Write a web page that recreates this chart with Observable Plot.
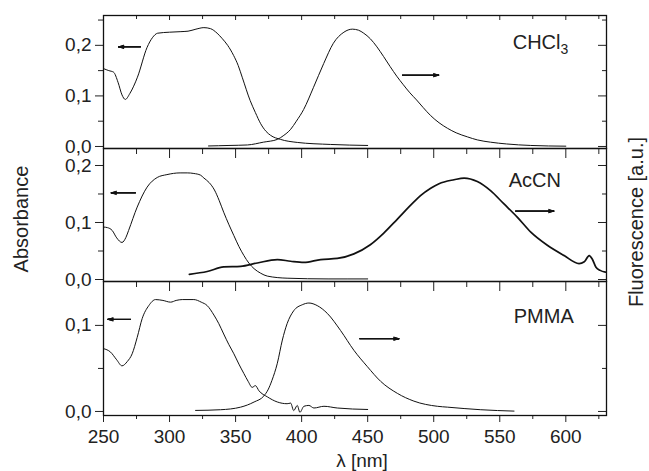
<!DOCTYPE html>
<html><head><meta charset="utf-8">
<script src="https://cdn.jsdelivr.net/npm/d3@7"></script>
<script src="https://cdn.jsdelivr.net/npm/@observablehq/plot@0.6"></script>
<style>
body{margin:0;background:#fff;}
#chart{position:relative;width:649px;height:471px;font-family:"Liberation Sans",Arial,sans-serif;color:#222;overflow:hidden;background:#fff}
#chart svg{position:absolute;left:0;}
.t{position:absolute;font-size:20px;white-space:nowrap;line-height:1;}
</style></head><body><div id="chart"></div>
<script>
// ---- data (wavelength nm, value) ----
const xMajor = [250,300,350,400,450,500,550,600];
const xMinor = [275,325,375,425,475,525,575,625];

const absCHCl3 = [[250,0.154],[254,0.150],[257.6,0.147],[261,0.127],[264,0.102],[266.5,0.093],[270,0.105],[275.7,0.137],[283,0.196],[287,0.215],[291,0.224],[300,0.226],[308,0.227],[314,0.228],[320,0.232],[326,0.235],[331,0.233],[336,0.224],[340,0.213],[344,0.200],[348.5,0.180],[352,0.160],[355,0.137],[361,0.091],[365,0.067],[369,0.045],[373,0.030],[376.5,0.022],[384,0.014],[396.7,0.008],[422,0.004],[450,0.002]];
const fluCHCl3 = [[329.5,0.001],[345,0.002],[359,0.003],[371,0.0085],[381.6,0.014],[386,0.021],[391.7,0.034],[396,0.050],[401.5,0.073],[409,0.117],[416.7,0.164],[424,0.204],[432,0.226],[438.4,0.232],[443,0.230],[447,0.224],[452,0.213],[457,0.197],[462,0.178],[467,0.158],[472,0.139],[477,0.122],[482,0.106],[487,0.092],[492,0.077],[497.7,0.061],[504,0.047],[510.4,0.036],[517,0.027],[525.5,0.019],[533,0.013],[543,0.0085],[555,0.005],[573.5,0.002],[600,0.0006]];

const absAcCN = [[250,0.092],[253,0.091],[256.6,0.086],[260,0.073],[264,0.065],[267,0.074],[269,0.086],[275.5,0.127],[283,0.162],[290.7,0.179],[298,0.184],[308,0.187],[313.4,0.187],[318.4,0.186],[323.5,0.183],[326,0.178],[330,0.170],[334,0.157],[337.5,0.139],[341,0.118],[344.8,0.097],[348.7,0.077],[352.5,0.058],[356.3,0.042],[360,0.029],[364,0.019],[369,0.011],[374,0.006],[389,0.0023],[420,0.001],[450,0.001]];
const fluAcCN = [[315,0.009],[328.5,0.014],[341,0.022],[353.8,0.023],[366.4,0.029],[381.6,0.035],[391.7,0.032],[401.7,0.030],[414.4,0.035],[427,0.037],[439.6,0.045],[452,0.061],[462,0.081],[472.5,0.106],[485,0.136],[490,0.147],[497.7,0.160],[504,0.168],[515.4,0.175],[523,0.178],[533,0.172],[543,0.156],[553,0.133],[563.4,0.109],[573.5,0.083],[586,0.060],[598.7,0.042],[610,0.028],[614,0.031],[617.7,0.042],[620,0.036],[622.7,0.022],[626,0.016],[630,0.013]];

const absPMMA = [[250,0.073],[255.3,0.069],[260,0.060],[264,0.053],[268,0.058],[271.7,0.067],[275.5,0.086],[279.3,0.108],[284.3,0.123],[289.4,0.130],[295,0.129],[300.8,0.127],[305,0.129],[309.6,0.130],[318.4,0.130],[324,0.127],[328.5,0.123],[333.6,0.112],[337.3,0.102],[341,0.090],[344.8,0.078],[348.7,0.067],[352.5,0.055],[356.3,0.044],[359.5,0.035],[362.6,0.028],[365,0.030],[367.7,0.024],[374,0.017],[381.6,0.011],[389,0.009],[391.7,0.0097],[394,0.001],[396.7,0.007],[398.7,-0.001],[401.7,0.006],[405.5,0.007],[409.3,0.004],[416.9,0.006],[427,0.004],[450,0.0023]];
const fluPMMA = [[319.7,0.0012],[338.6,0.002],[353.8,0.005],[364,0.011],[371.4,0.018],[374.5,0.025],[377.5,0.036],[381.6,0.056],[385.4,0.083],[389,0.102],[394,0.117],[400.5,0.124],[405.5,0.126],[411.8,0.123],[419.4,0.114],[429.5,0.094],[439.6,0.071],[449.8,0.052],[459.8,0.035],[472.5,0.021],[485,0.012],[502.8,0.006],[510.4,0.005],[535.6,0.002],[560.8,0.0004]];

// annotation arrows (data coordinates): absorbance <- , fluorescence ->
const arrowsCHCl3 = [{x1:278,x2:261.4,y:0.197},{x1:476.3,x2:503.8,y:0.141}];
const arrowsAcCN  = [{x1:274.2,x2:255.8,y:0.152},{x1:562,x2:591,y:0.120}];
const arrowsPMMA  = [{x1:270.5,x2:253.3,y:0.107},{x1:444,x2:473.7,y:0.0845}];

const panelLabels = [{text:"CHCl3",x:559.8,y:0.205},{text:"AcCN",x:556.8,y:0.173},{text:"PMMA",x:560.6,y:0.110}];
const yTicksMajor = [[0,0.1,0.2],[0,0.1,0.2],[0,0.1]];
const yTicksMinor = [[0.05,0.15,0.25],[0.05,0.15],[0.05]];
const yDomains = [[-0.004,0.259],[-0.0035,0.2298],[-0.0047,0.151]];

// ---- drawing ----
const toObj = a => a.map(([x,y]) => ({x,y}));
const fmt = d => d.toFixed(1).replace(".", ",");
const ink = "#111";
const chart = document.getElementById("chart");

function panel(i, abs, flu, arrows, box, opts = {}) {
  const marks = [
    Plot.line(toObj(abs), {x:"x", y:"y", stroke:ink, strokeWidth:1, curve:"monotone-x"}),
    Plot.line(toObj(flu), {x:"x", y:"y", stroke:ink, strokeWidth:opts.fluWidth || 1, curve:"monotone-x"}),
    ...[36,26,16,6].map(a => Plot.arrow(arrows, {x1:"x1", x2:"x2", y1:"y", y2:"y", stroke:ink, strokeWidth:1, headLength:8, headAngle:a})),
    Plot.text([panelLabels[i]], {x:"x", y:"y", text:"text", textAnchor:"start", fontSize:20, fill:"#222"}),
    Plot.axisY({anchor:"left", ticks:yTicksMajor[i], tickSize:8, tickPadding:4, tickFormat:fmt, label:null, fontSize:19, fill:"#222"}),
    Plot.axisY({anchor:"left", ticks:yTicksMinor[i], tickSize:5, tickFormat:() => "", label:null}),
    Plot.axisY({anchor:"right", ticks:yTicksMajor[i], tickSize:-9, tickFormat:() => "", label:null}),
    Plot.axisY({anchor:"right", ticks:yTicksMinor[i], tickSize:-5, tickFormat:() => "", label:null}),
    Plot.axisX({anchor:"top", ticks:xMajor, tickSize:-(opts.topMajor || 9), tickFormat:() => "", label:null}),
    Plot.axisX({anchor:"top", ticks:xMinor, tickSize:-(opts.topMinor || 5), tickFormat:() => "", label:null})
  ];
  if (opts.bottomAxis) {
    marks.push(
      Plot.axisX({anchor:"bottom", ticks:xMajor, tickSize:7, tickPadding:7, tickFormat:d => String(d), label:null, fontSize:19, fill:"#222"}),
      Plot.axisX({anchor:"bottom", ticks:xMinor, tickSize:4, tickFormat:() => "", label:null})
    );
  }
  marks.push(Plot.frame({stroke:ink, strokeWidth:1.3}));
  const svg = Plot.plot({
    width:649, height:box.height,
    marginLeft:103, marginRight:43, marginTop:box.mt, marginBottom:box.mb,
    x:{domain:[250,630.8]},
    y:{domain:yDomains[i]},
    style:{background:"transparent", overflow:"visible", fontFamily:"Liberation Sans, Arial, sans-serif", fontSize:"19px", color:"#222"},
    marks
  });
  svg.style.top = box.top + "px";
  d3.select(svg).selectAll("text").filter(function(){ return this.textContent === "CHCl3"; })
    .each(function(){
      const t = d3.select(this);
      t.text("CHCl");
      t.append("tspan").attr("dy","0.35em").attr("font-size","14px").text("3");
    });
  chart.appendChild(svg);
}

panel(0, absCHCl3, fluCHCl3, arrowsCHCl3, {top:0, height:165, mt:15, mb:17}, {topMajor:4, topMinor:3});
panel(1, absAcCN, fluAcCN, arrowsAcCN, {top:130, height:168, mt:18, mb:17}, {fluWidth:1.7});
panel(2, absPMMA, fluPMMA, arrowsPMMA, {top:263, height:208, mt:18, mb:56}, {bottomAxis:true});

function title(text, css) {
  const d = document.createElement("div");
  d.className = "t";
  d.textContent = text;
  Object.assign(d.style, css);
  chart.appendChild(d);
}
title("Absorbance", {left:"21px", top:"219px", fontSize:"20px", transform:"translate(-50%,-50%) rotate(-90deg)"});
title("Fluorescence [a.u.]", {left:"636px", top:"222px", fontSize:"20px", transform:"translate(-50%,-50%) rotate(-90deg)"});
title("λ [nm]", {left:"362px", top:"451px", fontSize:"19px", transform:"translateX(-50%)"});
</script></body></html>
